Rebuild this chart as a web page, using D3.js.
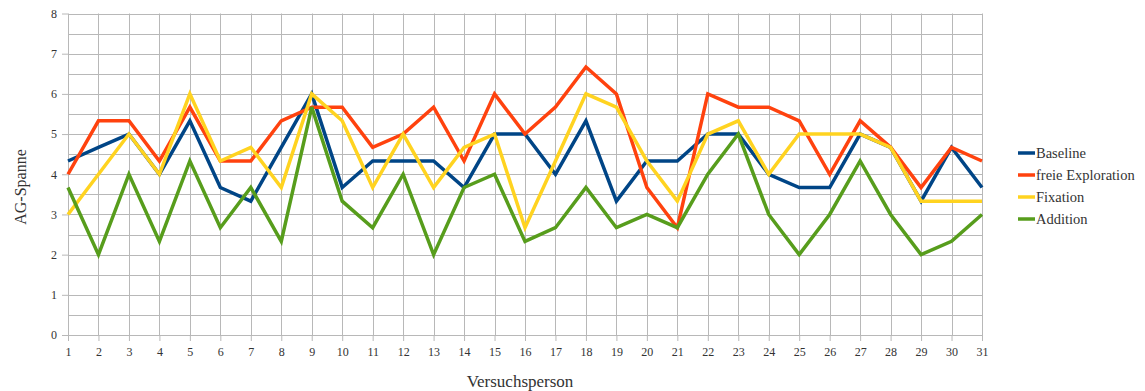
<!DOCTYPE html>
<html>
<head>
<meta charset="utf-8">
<script src="https://cdn.jsdelivr.net/npm/d3@7"></script>
<style>
  html, body { margin: 0; padding: 0; background: #fff; }
  svg { display: block; }
  svg text { font-family: "Liberation Serif", "Times New Roman", Times, "DejaVu Serif", serif !important; fill: #333; }
</style>
</head>
<body>
<svg id="chart" width="1145" height="391" font-family="Liberation Serif, serif"></svg>
<script>
// Versuchspersonen 1..31
const persons = d3.range(1, 32);

// AG-Spanne je Bedingung
const baseline = [4.33, 4.67, 5, 4, 5.33, 3.67, 3.33, 4.67, 6, 3.67, 4.33, 4.33, 4.33, 3.67, 5, 5,
                  4, 5.33, 3.33, 4.33, 4.33, 5, 5, 4, 3.67, 3.67, 5, 4.67, 3.33, 4.67, 3.67];
const freieExploration = [4, 5.33, 5.33, 4.33, 5.67, 4.33, 4.33, 5.33, 5.67, 5.67, 4.67, 5, 5.67, 4.33, 6, 5,
                  5.67, 6.67, 6, 3.67, 2.67, 6, 5.67, 5.67, 5.33, 4, 5.33, 4.67, 3.67, 4.67, 4.33];
const fixation = [3, 4, 5, 4, 6, 4.33, 4.67, 3.67, 6, 5.33, 3.67, 5, 3.67, 4.67, 5, 2.67,
                  4.33, 6, 5.67, 4.33, 3.33, 5, 5.33, 4, 5, 5, 5, 4.67, 3.33, 3.33, 3.33];
const addition = [3.67, 2, 4, 2.33, 4.33, 2.67, 3.67, 2.33, 5.67, 3.33, 2.67, 4, 2, 3.67, 4, 2.33,
                  2.67, 3.67, 2.67, 3, 2.67, 4, 5, 3, 2, 3, 4.33, 3, 2, 2.33, 3];

const seriesNames = ["Baseline", "freie Exploration", "Fixation", "Addition"];
const seriesValues = [baseline, freieExploration, fixation, addition];
const seriesColors = ["#004586", "#ff420e", "#ffd320", "#579d1c"];

const yTicks = [0, 1, 2, 3, 4, 5, 6, 7, 8];
const yGrid = d3.range(0, 8.01, 0.5);

const FONT = "'Liberation Serif', 'Times New Roman', Times, serif";

const svg = d3.select("#chart");
const plot = { left: 68, right: 982, top: 13.5, bottom: 335 };

const x = d3.scaleLinear().domain([1, 31]).range([plot.left, plot.right]);
const y = d3.scaleLinear().domain([0, 8]).range([plot.bottom, plot.top]);

// grid
const grid = svg.append("g").attr("stroke", "#b8b8b8").attr("stroke-width", 1);
grid.selectAll("line.h").data(yGrid).join("line")
  .attr("class", "h")
  .attr("x1", plot.left).attr("x2", plot.right)
  .attr("y1", d => Math.round(y(d)) + 0.5).attr("y2", d => Math.round(y(d)) + 0.5);
grid.selectAll("line.v").data(persons).join("line")
  .attr("class", "v")
  .attr("x1", d => Math.round(x(d)) + 0.5).attr("x2", d => Math.round(x(d)) + 0.5)
  .attr("y1", plot.top).attr("y2", plot.bottom);

// axes
const yAxis = d3.axisLeft(y).tickValues(yTicks).tickSize(6).tickPadding(5);
const gy = svg.append("g").attr("transform", `translate(${plot.left},0)`).call(yAxis)
  .attr("font-family", FONT).attr("font-size", 12);
gy.select(".domain").remove();
gy.selectAll(".tick line").attr("stroke", "#b8b8b8");
gy.selectAll(".tick text").attr("fill", "#333");

const xAxis = d3.axisBottom(x).tickValues(persons).tickSize(6).tickPadding(6).tickFormat(d3.format("d"));
const gx = svg.append("g").attr("transform", `translate(0,${plot.bottom})`).call(xAxis)
  .attr("font-family", FONT).attr("font-size", 12);
gx.select(".domain").remove();
gx.selectAll(".tick line").attr("stroke", "#b8b8b8");
gx.selectAll(".tick text").attr("fill", "#333");

// axis titles
svg.append("text")
  .attr("x", 520).attr("y", 387)
  .attr("text-anchor", "middle")
  .attr("font-family", FONT)
  .attr("font-size", 17)
  .text("Versuchsperson");

svg.append("text")
  .attr("transform", "translate(26,187) rotate(-90)")
  .attr("text-anchor", "middle")
  .attr("font-family", FONT)
  .attr("font-size", 16)
  .text("AG-Spanne");

// lines
const line = d3.line().x((d, i) => x(persons[i])).y(d => y(d));
svg.append("g").selectAll("path").data(seriesValues).join("path")
  .attr("d", line)
  .attr("fill", "none")
  .attr("stroke", (d, i) => seriesColors[i])
  .attr("stroke-width", 3.5)
  .attr("stroke-linejoin", "miter")
  .attr("stroke-miterlimit", 3);

// legend
const legend = svg.append("g").attr("transform", "translate(1018,153)")
  .attr("font-family", FONT).attr("font-size", 14.5);
const items = legend.selectAll("g").data(seriesNames).join("g")
  .attr("transform", (d, i) => `translate(0,${i * 22})`);
items.append("line")
  .attr("x1", 0).attr("x2", 17).attr("y1", 0).attr("y2", 0)
  .attr("stroke", (d, i) => seriesColors[i])
  .attr("stroke-width", 3.5);
items.append("text")
  .attr("x", 18).attr("y", 0).attr("dy", "0.35em")
  .text(d => d);
</script>
</body>
</html>
